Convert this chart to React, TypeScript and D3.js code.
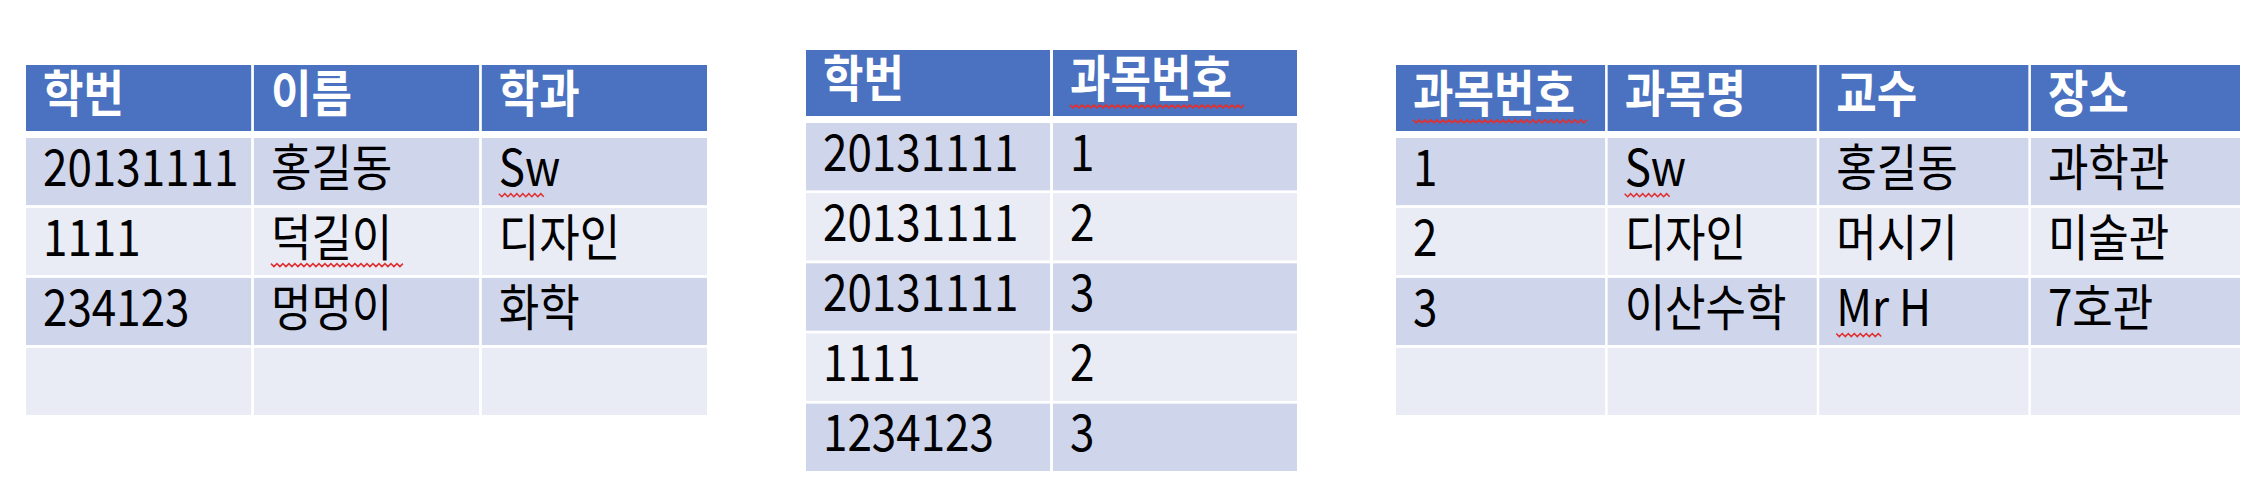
import * as d3 from 'd3';

const t1Headers = ['학번', '이름', '학과'];
const t1Rows = [
  ['20131111', '홍길동', 'Sw'],
  ['1111', '덕길이', '디자인'],
  ['234123', '멍멍이', '화학'],
  ['', '', ''],
];
const t2Headers = ['학번', '과목번호'];
const t2Rows = [
  ['20131111', '1'],
  ['20131111', '2'],
  ['20131111', '3'],
  ['1111', '2'],
  ['1234123', '3'],
];
const t3Headers = ['과목번호', '과목명', '교수', '장소'];
const t3Rows = [
  ['1', 'Sw', '홍길동', '과학관'],
  ['2', '디자인', '머시기', '미술관'],
  ['3', '이산수학', 'Mr H', '7호관'],
  ['', '', '', ''],
];
// cells flagged by the spell checker (red squiggle)
const squiggles = ['Sw', '덕길이', '과목번호', 'Mr'];

const FONT = '"Noto Sans CJK KR", "Noto Sans", sans-serif';
const FS = 50;
const SX = 0.88;

interface TableProps {
  headers: string[];
  rows: string[][];
  x0: number;
  x1: number;
  top: number;
  headBottom: number;
  bodyTop: number;
  bottom: number;
}

function squigglePath(x: number, y: number, w: number) {
  const pts: [number, number][] = d3.range(0, Math.floor(w / 3) + 1).map((i) => [x + i * 3, y + (i % 2 ? 3 : 0)]);
  return d3.line()(pts) || '';
}

function textWidth(s: string) {
  let w = 0;
  for (const ch of s) w += /[가-힣]/.test(ch) ? FS : ch === ' ' ? FS * 0.28 : FS * 0.54;
  return w * SX;
}

function Table({ headers, rows, x0, x1, top, headBottom, bodyTop, bottom }: TableProps) {
  const x = d3.scaleBand<number>().domain(d3.range(headers.length)).range([x0, x1]).paddingInner(0.012);
  const y = d3.scaleBand<number>().domain(d3.range(rows.length)).range([bodyTop, bottom]).paddingInner(0.04);
  const cell = (text: string, cx: number, cy: number, h: number, head: boolean, key: string) => {
    const tx = cx + 17;
    const ty = cy + h * 0.71;
    const sq = squiggles.find((s) => text.startsWith(s));
    return (
      <g key={key}>
        <text
          transform={`translate(${tx},${ty}) scale(${SX},1)`}
          fontFamily={FONT}
          fontSize={FS}
          fontWeight={head ? 700 : 400}
          fill={head ? '#ffffff' : '#000000'}
        >
          {text}
        </text>
        {sq && (
          <path d={squigglePath(tx, ty + 8, textWidth(sq))} fill="none" stroke="#e03030" strokeWidth={1.5} />
        )}
      </g>
    );
  };
  return (
    <g>
      {headers.map((h, i) => (
        <g key={'h' + i}>
          <rect x={x(i)} y={top} width={x.bandwidth()} height={headBottom - top} fill="#4A72C0" />
          {cell(h, x(i)!, top, headBottom - top, true, 'ht' + i)}
        </g>
      ))}
      {rows.map((r, ri) =>
        r.map((v, ci) => (
          <g key={ri + '-' + ci}>
            <rect x={x(ci)} y={y(ri)} width={x.bandwidth()} height={y.bandwidth()} fill={ri % 2 ? '#E9EBF5' : '#CFD5EA'} />
            {cell(v, x(ci)!, y(ri)!, y.bandwidth(), false, 'c' + ri + ci)}
          </g>
        )),
      )}
    </g>
  );
}

export default function App() {
  return (
    <svg width={2256} height={496} style={{ position: 'absolute', left: 0, top: 0, background: '#fff' }}>
      <Table headers={t1Headers} rows={t1Rows} x0={26} x1={707} top={65} headBottom={131} bodyTop={138} bottom={415} />
      <Table headers={t2Headers} rows={t2Rows} x0={806} x1={1297} top={50} headBottom={116} bodyTop={123} bottom={471} />
      <Table headers={t3Headers} rows={t3Rows} x0={1396} x1={2240} top={65} headBottom={131} bodyTop={138} bottom={415} />
    </svg>
  );
}
